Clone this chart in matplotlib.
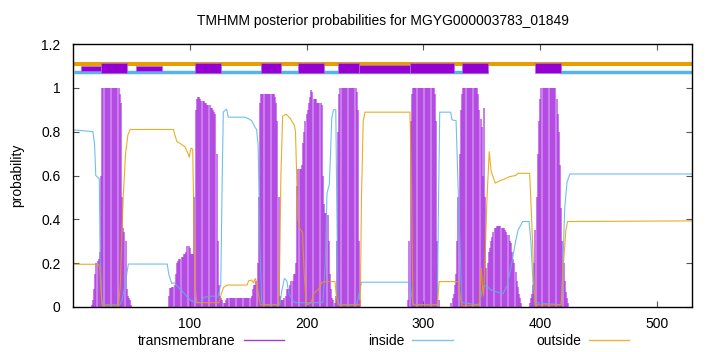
import numpy as np
import matplotlib
matplotlib.use('Agg')
import matplotlib.pyplot as plt
from matplotlib.lines import Line2D

plt.rcParams['font.family'] = ['Liberation Sans', 'DejaVu Sans']
plt.rcParams['font.size'] = 10

title = 'TMHMM posterior probabilities for MGYG000003783_01849'
seq_len = 530

# transmembrane probability per residue, one list per hump (first residue + values)
tm1_start = 16
tm1 = [0.01, 0.03, 0.08, 0.15, 0.2, 0.21, 0.22, 0.25, 0.6] + [1.0] * 15 + \
      [0.97, 0.93, 0.5, 0.36, 0.34, 0.3, 0.08, 0.05, 0.04, 0.03, 0.01]
tm2_start = 82
tm2 = [0.05, 0.085, 0.085, 0.09, 0.09, 0.1, 0.15, 0.2, 0.21, 0.22, 0.22, 0.23,
       0.23, 0.24, 0.24, 0.25, 0.28, 0.28, 0.27, 0.24, 0.24, 0.24, 0.5, 0.9,
       0.95, 0.96, 0.96, 0.95, 0.94, 0.94, 0.94, 0.93, 0.93, 0.92, 0.92, 0.92,
       0.91, 0.91, 0.9, 0.89, 0.88, 0.7, 0.3, 0.1, 0.05, 0.04, 0.03,
       0.02, 0.02, 0.03] + [0.04] * 21
tm3_start = 153
tm3 = [0.05, 0.08, 0.1, 0.1, 0.12, 0.2, 0.5, 0.93] + [0.97] * 12 + \
      [0.96, 0.93, 0.85, 0.5, 0.05, 0.03]
tm4_start = 179
tm4 = [0.03, 0.03, 0.04, 0.05, 0.08, 0.08, 0.08, 0.1, 0.12, 0.12, 0.15, 0.15,
       0.2, 0.55, 0.63, 0.63, 0.63, 0.65, 0.75, 0.8, 0.85, 0.88, 0.9, 0.93,
       0.96, 0.99, 0.98, 0.95, 0.95, 0.95, 0.93, 0.93, 0.93, 0.93, 0.92, 0.6,
       0.47, 0.43, 0.43, 0.42, 0.3, 0.15, 0.08, 0.04, 0.03]
tm5_start = 224
tm5 = [0.02, 0.05, 0.3, 0.8, 0.97] + [1.0] * 14 + [0.98, 0.9, 0.3, 0.03]
tm6_start = 287
tm6 = [0.03, 0.3, 0.85, 0.97] + [1.0] * 19 + [0.97, 0.85, 0.3, 0.03]
tm7_start = 324
tm7 = [0.02, 0.04, 0.06, 0.1, 0.15, 0.3, 0.5, 0.7, 0.9, 0.97] + [1.0] * 13 + \
      [0.97, 0.9, 0.86, 0.82, 0.6, 0.91, 0.5,
       0.18, 0.2, 0.25, 0.27, 0.3, 0.32, 0.34, 0.36, 0.36, 0.37, 0.37, 0.37,
       0.37, 0.36, 0.36, 0.36, 0.35, 0.34, 0.33, 0.33, 0.3, 0.29, 0.25, 0.22,
       0.2, 0.16, 0.12, 0.09, 0.06, 0.04, 0.02]
tm8_start = 391
tm8 = [0.02, 0.04, 0.06, 0.1, 0.2, 0.35, 0.5, 0.7, 0.85, 0.95] + [1.0] * 13 + \
      [0.95, 0.88, 0.8, 0.65, 0.45, 0.3, 0.2, 0.12, 0.07, 0.04, 0.02]

# inside / outside probability read at break points
inside_x = [1, 17, 18.5, 19.5, 22.5, 23.2, 24.5, 26, 40, 42, 44.5, 47.4, 80.7, 82,
            84.5, 87, 90, 94, 97, 101, 106, 110, 112, 120, 124, 126.5, 127.8,
            128.7, 131.5, 133, 147, 150, 153, 155.8, 157.2, 158.5, 160, 161.5,
            163, 177, 179, 181, 183, 185, 188, 190, 214, 216, 217.5, 219.5,
            220.5, 221.5, 223, 225, 226, 227, 228, 243, 244.5, 247, 288.5, 290,
            291.5, 312, 313, 314, 323.4, 324.5, 328, 330, 333, 347, 348, 351,
            354, 357, 368, 372, 376, 379, 381, 385, 390.5, 392, 394, 396, 418,
            419.5, 421, 423, 425.5, 530]
inside_y = [0.808, 0.80, 0.74, 0.60, 0.585, 0.25, 0.03, 0.01, 0.01, 0.03, 0.1,
            0.196, 0.196, 0.15, 0.108, 0.11, 0.09, 0.07, 0.05, 0.03, 0.02, 0.02,
            0.045, 0.05, 0.045, 0.1, 0.6, 0.89, 0.903, 0.866, 0.866, 0.86, 0.85,
            0.82, 0.81, 0.74, 0.3, 0.03, 0.01, 0.01, 0.08, 0.13, 0.12, 0.06,
            0.03, 0.02, 0.02, 0.2, 0.52, 0.56, 0.7, 0.86, 0.9, 0.9, 0.4, 0.03,
            0.01, 0.01, 0.05, 0.113, 0.113, 0.05, 0.01, 0.01, 0.5, 0.889, 0.889,
            0.854, 0.85, 0.5, 0.02, 0.01, 0.02, 0.09, 0.1, 0.08, 0.06, 0.1, 0.21,
            0.3, 0.35, 0.39, 0.39, 0.3, 0.1, 0.02, 0.01, 0.2, 0.45, 0.57, 0.607,
            0.607]
outside_x = [1, 21.8, 23, 24, 25, 39, 40.5, 42, 43, 45, 47, 49, 86, 87.5, 89, 92,
             96, 98.5, 99.5, 101, 102.5, 103.5, 104.5, 106, 125, 127, 129, 132,
             149, 150.5, 153, 154.5, 156, 157.5, 159, 160.5, 176, 177, 178,
             179.5, 182.5, 186, 189.5, 190.5, 192.5, 194, 196.5, 198, 199.5, 201,
             204, 206, 210, 213, 215, 224.3, 225.5, 227, 246, 247, 248.5, 250,
             288.5, 290, 291, 312, 313.5, 330, 331.5, 333, 348, 349.5, 350.5,
             351.5, 352.7, 354.5, 356.4, 358, 361.5, 365, 370, 374, 379, 381, 391,
             392.7, 395.5, 418, 420, 422, 423.5, 530]
outside_y = [0.195, 0.195, 0.18, 0.08, 0.005, 0.005, 0.1, 0.35, 0.5, 0.7, 0.785,
             0.81, 0.81, 0.78, 0.755, 0.745, 0.73, 0.70, 0.683, 0.725, 0.72, 0.4,
             0.1, 0.02, 0.02, 0.06, 0.09, 0.1, 0.1, 0.12, 0.123, 0.11, 0.13, 0.11,
             0.05, 0.01, 0.01, 0.2, 0.6, 0.87, 0.88, 0.86, 0.83, 0.8, 0.4, 0.36,
             0.34, 0.15, 0.03, 0.01, 0.02, 0.06, 0.08, 0.11, 0.116, 0.116, 0.05,
             0.01, 0.01, 0.5, 0.85, 0.889, 0.889, 0.5, 0.01, 0.01, 0.116, 0.116,
             0.05, 0.005, 0.01, 0.177, 0.1, 0.05, 0.2, 0.5, 0.709, 0.62, 0.565,
             0.575, 0.585, 0.595, 0.6, 0.61, 0.61, 0.4, 0.01, 0.01, 0.2, 0.35,
             0.39, 0.393]

# predicted topology strip above the plot
box_start = [6.6, 53.7, 24, 104.5, 160.7, 193, 227, 245, 288.5, 333.3, 395.3]
box_end = [24, 76, 46.5, 127, 177.8, 215, 245, 288.5, 326.2, 355, 417.5]
box_low = [1.079, 1.079, 1.067, 1.067, 1.067, 1.067, 1.067, 1.067, 1.067, 1.067, 1.067]
box_high = [1.1005, 1.1005, 1.1155, 1.1155, 1.1155, 1.1155, 1.1155, 1.105, 1.1155,
            1.1155, 1.1155]
inside_seg_start = [1, 417]
inside_seg_end = [355, 530]

c_tm = '#a82ee0'
c_in = '#56b4e9'
c_out = '#e69f00'
c_box = '#9400d3'

residues = np.arange(1, seq_len + 1)
tm = np.zeros(seq_len)
for s, v in [(tm1_start, tm1), (tm2_start, tm2), (tm3_start, tm3), (tm4_start, tm4),
             (tm5_start, tm5), (tm6_start, tm6), (tm7_start, tm7), (tm8_start, tm8)]:
    tm[s - 1:s - 1 + len(v)] = v

fig = plt.figure(figsize=(7.2, 3.52), dpi=100)
ax = fig.add_axes([73 / 720, 1 - 307 / 352, 619 / 720, 263 / 352])

m = tm > 0
ax.vlines(residues[m], 0, tm[m], color=c_tm, lw=1.1, alpha=0.8)
ax.plot(inside_x, inside_y, color=c_in, lw=0.8, alpha=0.85)
ax.plot(outside_x, outside_y, color=c_out, lw=0.8, alpha=0.85)

ax.plot([1, seq_len], [1.111, 1.111], color=c_out, lw=2.9, solid_capstyle='butt')
for s, e in zip(inside_seg_start, inside_seg_end):
    ax.plot([s, e], [1.072, 1.072], color=c_in, lw=2.5, solid_capstyle='butt')
for s, e, lo, hi in zip(box_start, box_end, box_low, box_high):
    ax.fill_between([s, e], [lo, lo], [hi, hi], facecolor=c_box,
                    edgecolor='#b070e0', lw=0.5, zorder=3)

ax.set_xlim(0, seq_len)
ax.set_ylim(0, 1.2)
ax.set_xticks([100, 200, 300, 400, 500])
ax.set_yticks([0, 0.2, 0.4, 0.6, 0.8, 1.0, 1.2])
ax.set_yticklabels(['0', '0.2', '0.4', '0.6', '0.8', '1', '1.2'])
ax.tick_params(direction='in', top=True, right=True, length=4, width=0.8,
               color='#555555', pad=7)
ax.tick_params(axis='y', pad=9)
for sp in ax.spines.values():
    sp.set_linewidth(1.0)
ax.set_ylabel('probability', labelpad=12)
ax.set_title(title, fontsize=10, pad=14)

handles = [Line2D([], [], color='#a040d0', lw=1),
           Line2D([], [], color='#7fc4ee', lw=1),
           Line2D([], [], color='#f0b040', lw=1)]
fig.legend(handles, ['transmembrane', 'inside', 'outside'], loc='center',
           bbox_to_anchor=(0.533, 1 - 341 / 352), ncol=3, frameon=False,
           markerfirst=False, handlelength=2.9, handletextpad=0.6,
           columnspacing=6.0)

fig.savefig('out.png', dpi=100)
